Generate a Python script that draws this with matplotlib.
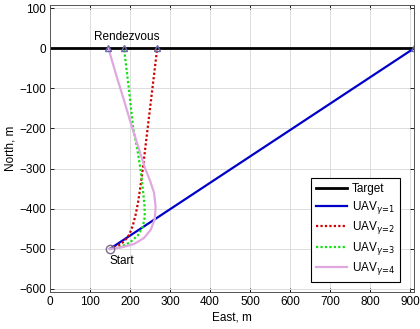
import matplotlib
matplotlib.use("Agg")
from matplotlib import pyplot as plt
import numpy as np

# trajectories (East, North in metres)
target_e = [0, 910]
target_n = [0, 0]

uav1_e = [150, 910]
uav1_n = [-500, 0]

uav2_e = [150, 168, 185, 198, 207, 214, 220, 226, 232, 244, 256, 268]
uav2_n = [-500, -494, -482, -465, -442, -415, -385, -345, -300, -200, -100, 0]

uav3_e = [150, 175, 200, 220, 232, 237, 236, 232, 226, 218, 208, 197, 185]
uav3_n = [-500, -496, -484, -466, -445, -420, -390, -350, -300, -250, -200, -100, 0]

uav4_e = [150, 180, 210, 235, 252, 262, 264, 260, 250, 238, 222, 206, 185, 165, 146]
uav4_n = [-500, -496, -488, -473, -452, -425, -395, -360, -330, -300, -250, -200, -130, -65, 0]

rdv_e = [146, 185, 268, 910]
rdv_n = [0, 0, 0, 0]
start_e, start_n = 150, -500

plt.rcParams['font.family'] = ['Liberation Sans', 'DejaVu Sans']
plt.rcParams['font.size'] = 8.5

fig = plt.figure(figsize=(4.2, 3.29), dpi=100)
ax = fig.add_axes([0.119, 0.112, 0.867, 0.873])

ax.plot(target_e, target_n, color='black', lw=2, label='Target')
ax.plot(uav1_e, uav1_n, color='#0000c8', lw=1.6, label=r'UAV$_{\gamma\!=\!1}$')
ax.plot(uav2_e, uav2_n, color='#d00000', lw=1.6, ls=(0, (1, 1)), label=r'UAV$_{\gamma\!=\!2}$')
ax.plot(uav3_e, uav3_n, color='#10e010', lw=1.6, ls=(0, (1, 1)), label=r'UAV$_{\gamma\!=\!3}$')
ax.plot(uav4_e, uav4_n, color='#e0a8e0', lw=1.6, label=r'UAV$_{\gamma\!=\!4}$')

ax.plot(rdv_e, rdv_n, ls='none', marker='^', ms=5, mfc='none', mec='#6a6aa8', mew=1)
ax.plot(start_e, start_n, ls='none', marker='o', ms=6, mfc='none', mec='#7a6a8a', mew=1)
ax.text(193, 27, 'Rendezvous', ha='center', va='center')
ax.text(148, -530, 'Start', ha='left', va='center')

ax.set_xlim(0, 910)
ax.set_ylim(-608, 108)
ax.set_xticks(np.arange(0, 901, 100))
ax.set_yticks(np.arange(-600, 101, 100))
ax.grid(True, color='#dcdcdc', lw=0.7)
ax.set_axisbelow(True)
ax.tick_params(direction='in', top=True, right=True, length=3, width=0.6, pad=3)
for s in ax.spines.values():
    s.set_linewidth(0.7)
    s.set_color('#555555')
ax.set_xlabel('East, m', labelpad=2)
ax.set_ylabel('North, m', labelpad=2)

leg = ax.legend(loc='lower right', bbox_to_anchor=(0.962, 0.035), borderaxespad=0,
                fancybox=False, edgecolor='black', framealpha=1,
                handlelength=2.7, borderpad=0.4, labelspacing=0.3, handletextpad=0.4)
leg.get_frame().set_linewidth(0.8)

fig.savefig('out.png', dpi=100)
